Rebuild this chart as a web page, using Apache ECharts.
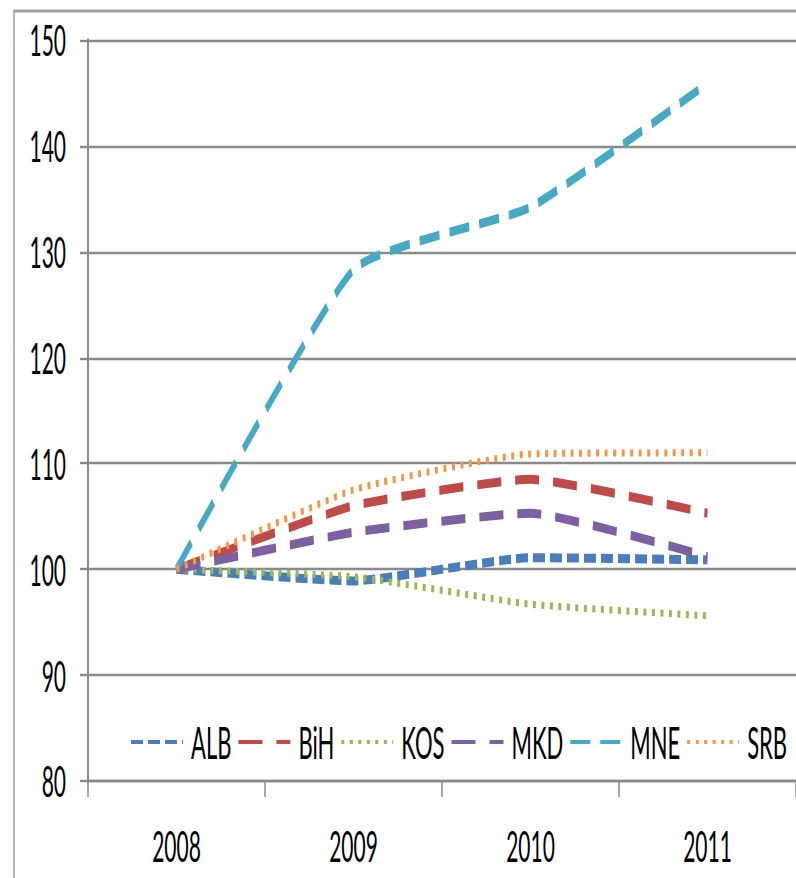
<!DOCTYPE html>
<html><head><meta charset="utf-8">
<script src="https://cdn.jsdelivr.net/npm/echarts@6/dist/echarts.min.js"></script>
<style>
html,body{margin:0;padding:0;background:#fff;overflow:hidden;}
#wrap{width:796px;height:878px;overflow:hidden;}
#c{width:796px;height:439px;transform:scaleY(2);transform-origin:0 0;}
</style>
</head><body><div id="wrap"><div id="c"></div></div>
<script>
var years = ['2008','2009','2010','2011'];
var ALB = [100, 98.9, 101.1, 100.9];
var BiH = [100, 106.0, 108.5, 105.3];
var KOS = [100, 99.3, 96.7, 95.6];
var MKD = [100, 103.5, 105.3, 101.2];
var MNE = [100, 128.3, 134.2, 145.9];
var SRB = [100, 107.5, 110.9, 111.0];
var yMin = 80, yMax = 150, yStep = 10;

var font = "Lato,'Open Sans',sans-serif";
function mk(name, data, color, dash, width) {
  return {
    name: name, type: 'line', data: data, smooth: 0.15, symbol: 'none',
    lineStyle: { color: color, width: width, type: dash, cap: 'butt' },
    itemStyle: { color: color }
  };
}
var chart = echarts.init(document.getElementById('c'), null, { renderer: 'svg' });
chart.setOption({
  animation: false,
  backgroundColor: '#fff',
  graphic: [{ type: 'rect', shape: { x: 14, y: 5.5, width: 900, height: 900 }, style: { fill: 'none', stroke: '#a0a0a0', lineWidth: 1.5 }, silent: true }],
  grid: { left: 88, top: 20, right: 0, bottom: 48.5 },
  legend: {
    left: 130, top: 360, width: 666, padding: 0, itemWidth: 52, itemHeight: 10, itemGap: 6,
    itemStyle: { opacity: 0 },
    textStyle: { fontFamily: font, fontSize: 22, color: '#000', padding: [0, 0, 0, 3] },
    data: ['ALB', 'BiH', 'KOS', 'MKD', 'MNE', 'SRB']
  },
  xAxis: {
    type: 'category', data: years, boundaryGap: true,
    axisLine: { lineStyle: { color: '#8a8a8a', width: 1.2 } },
    axisTick: { show: true, length: 8, lineStyle: { color: '#8a8a8a', width: 1.5 } },
    axisLabel: { margin: 22, fontFamily: font, fontSize: 21, color: '#000' }
  },
  yAxis: {
    type: 'value', min: yMin, max: yMax, interval: yStep,
    axisLine: { show: true, lineStyle: { color: '#8a8a8a', width: 2 } },
    axisTick: { show: true, length: 8, lineStyle: { color: '#8a8a8a', width: 1.2 } },
    splitLine: { lineStyle: { color: '#8a8a8a', width: 1.2 } },
    axisLabel: { margin: 22, fontFamily: font, fontSize: 21, color: '#000' }
  },
  series: [
    mk('ALB', ALB, '#4a7ebb', [12, 5], 4.5),
    mk('BiH', BiH, '#be4b48', [24, 14], 4.5),
    mk('KOS', KOS, '#98b954', [3, 5.5], 3.5),
    mk('MKD', MKD, '#7d60a0', [24, 14], 4.5),
    mk('MNE', MNE, '#46aac5', [20, 10], 4.5),
    mk('SRB', SRB, '#f79646', [3, 5.5], 3.5)
  ]
});
</script></body></html>
